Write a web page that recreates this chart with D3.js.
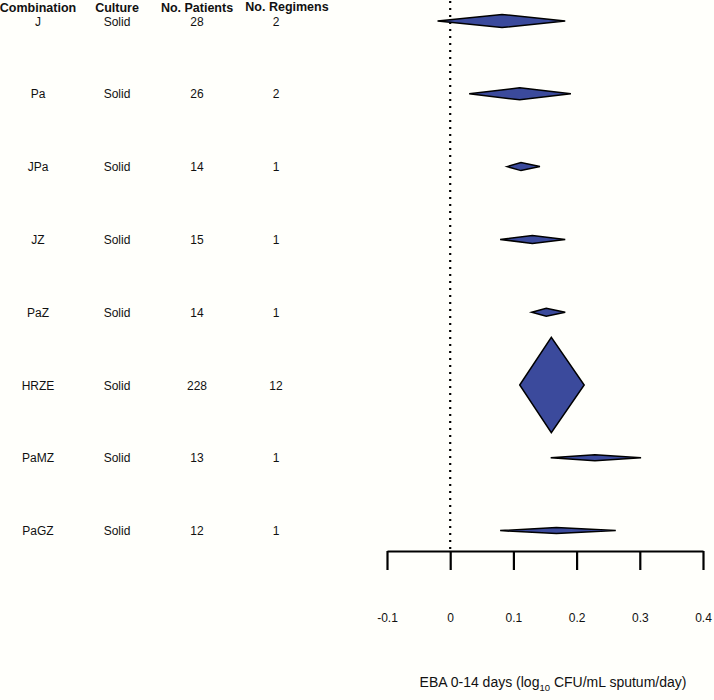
<!DOCTYPE html>
<html>
<head>
<meta charset="utf-8">
<script src="https://cdn.jsdelivr.net/npm/d3@7"></script>
<style>
  html, body { margin: 0; padding: 0; background: #fffffb; }
  svg { display: block; }
  text { font-family: "Liberation Sans", Arial, sans-serif; fill: #111; }
</style>
</head>
<body>
<svg id="chart" width="714" height="700"></svg>
<script>
// ---- data ----
const combinations = ["J", "Pa", "JPa", "JZ", "PaZ", "HRZE", "PaMZ", "PaGZ"];
const cultures = ["Solid", "Solid", "Solid", "Solid", "Solid", "Solid", "Solid", "Solid"];
const patients = [28, 26, 14, 15, 14, 228, 13, 12];
const regimens = [2, 2, 1, 1, 1, 12, 1, 1];
const ebaEstimate = [0.082, 0.110, 0.112, 0.130, 0.152, 0.160, 0.229, 0.168];
const ebaLower    = [-0.020, 0.030, 0.090, 0.079, 0.129, 0.110, 0.159, 0.079];
const ebaUpper    = [0.182, 0.191, 0.142, 0.182, 0.182, 0.212, 0.302, 0.262];
const weights     = [6.5, 6, 4, 4, 4, 47.7, 3, 3];
const tickValues  = [-0.1, 0, 0.1, 0.2, 0.3, 0.4];
const tickLabels  = ["-0.1", "0", "0.1", "0.2", "0.3", "0.4"];
const headers = ["Combination", "Culture", "No. Patients", "No. Regimens"];

const rows = combinations.map((c, i) => ({
  combo: c, culture: cultures[i], n: patients[i], reg: regimens[i],
  est: ebaEstimate[i], lo: ebaLower[i], hi: ebaUpper[i], w: weights[i]
}));

const svg = d3.select("#chart");

const x = d3.scaleLinear().domain([-0.1, 0.4]).range([387, 703]);
const y = d3.scalePoint().domain(combinations).range([21, 530.6]);
const h = d3.scaleLinear().domain([0, 50]).range([0, 50]);

// reference dotted line at zero
svg.append("line")
  .attr("x1", x(0)).attr("x2", x(0))
  .attr("y1", 1).attr("y2", 551)
  .attr("stroke", "#000").attr("stroke-width", 2.2)
  .attr("stroke-dasharray", "2,5");

// diamonds
svg.append("g").selectAll("path").data(rows).join("path")
  .attr("d", d => {
    const cy = y(d.combo), hh = h(d.w);
    return `M${x(d.lo)},${cy}L${x(d.est)},${cy - hh}L${x(d.hi)},${cy}L${x(d.est)},${cy + hh}Z`;
  })
  .attr("fill", "#3b4a9c")
  .attr("stroke", "#000")
  .attr("stroke-width", 1.5)
  .attr("stroke-linejoin", "miter");

// axis
const axis = d3.axisBottom(x).tickValues(tickValues)
  .tickFormat((d, i) => tickLabels[i])
  .tickSize(19).tickSizeOuter(0).tickPadding(43);
const ag = svg.append("g").attr("transform", "translate(0,551)").call(axis);
ag.select(".domain").attr("stroke", "#000").attr("stroke-width", 2.2);
ag.selectAll(".tick line").attr("stroke", "#000").attr("stroke-width", 2.2);
ag.selectAll(".tick text").attr("font-size", 12)
  .attr("font-family", "Liberation Sans, Arial, sans-serif").attr("fill", "#111");

// axis title
const title = svg.append("text")
  .attr("x", 553).attr("y", 687)
  .attr("text-anchor", "middle").attr("font-size", 14);
title.append("tspan").text("EBA 0-14 days (log");
title.append("tspan").attr("font-size", 9.5).attr("dy", 3.5).text("10");
title.append("tspan").attr("dy", -3.5).text(" CFU/mL sputum/day)");

// table headers
const colX = [38, 117, 197, 276];
const headerX = [38, 117, 197, 287];
const headerY = [12, 12, 12, 11];
svg.append("g").selectAll("text").data(headers).join("text")
  .attr("x", (d, i) => headerX[i]).attr("y", (d, i) => headerY[i])
  .attr("text-anchor", "middle").attr("font-size", 12.5).attr("font-weight", "bold")
  .text(d => d);

// table rows
const rowG = svg.append("g").selectAll("g").data(rows).join("g")
  .attr("transform", d => `translate(0,${y(d.combo) + 4.5})`);
rowG.append("text").attr("x", colX[0]).attr("text-anchor", "middle").attr("font-size", 12).text(d => d.combo);
rowG.append("text").attr("x", colX[1]).attr("text-anchor", "middle").attr("font-size", 12).text(d => d.culture);
rowG.append("text").attr("x", colX[2]).attr("text-anchor", "middle").attr("font-size", 12).text(d => d.n);
rowG.append("text").attr("x", colX[3]).attr("text-anchor", "middle").attr("font-size", 12).text(d => d.reg);
</script>
</body>
</html>
